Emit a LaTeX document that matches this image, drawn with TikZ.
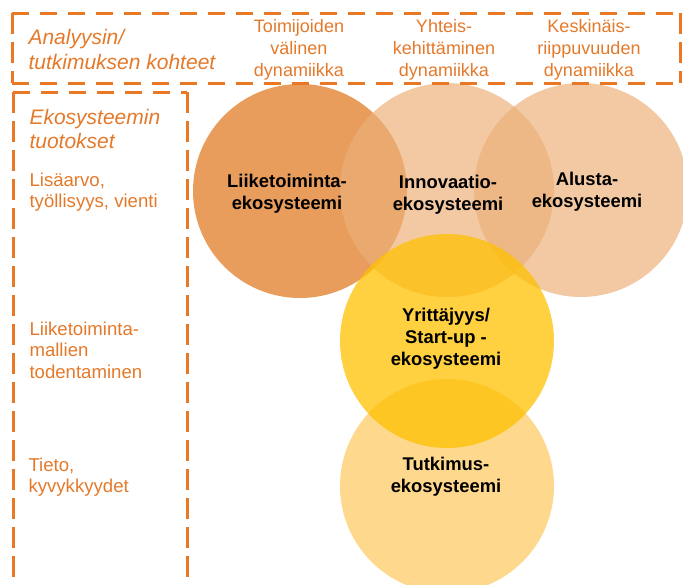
\documentclass[tikz,border=0pt]{standalone}
\usepackage{fontspec}
\setmainfont{Liberation Sans}
\begin{document}
\definecolor{lineorange}{RGB}{232,120,35}
\definecolor{textorange}{RGB}{228,121,42}
\definecolor{bizfill}{RGB}{232,157,92}
\definecolor{peach}{RGB}{236,176,120}
\definecolor{gold}{RGB}{255,192,0}
\definecolor{paleyellow}{RGB}{254,216,140}
\tikzset{
  frameh/.style={draw=lineorange, line width=3pt, dash pattern=on 17pt off 11pt},
  framev/.style={draw=lineorange, line width=3pt, dash pattern=on 21pt off 8pt},
  eco/.style={circle, minimum size=214pt, inner sep=0pt, draw=none},
  head/.style={text=textorange, align=center, font=\fontsize{18pt}{22pt}\selectfont},
  side/.style={text=textorange, align=left, anchor=west, font=\fontsize{18.6pt}{21.5pt}\selectfont},
  sideit/.style={side, font=\fontsize{21pt}{24.5pt}\selectfont\itshape},
  ecolabel/.style={align=center, font=\fontsize{18.4pt}{22pt}\selectfont\bfseries}
}
\begin{tikzpicture}[x=1pt, y=-1pt]
\useasboundingbox (0,0) rectangle (683,584);
\clip (0,0) rectangle (683,584);

% circles, back to front
\node[eco, fill=paleyellow] (tutk) at (447,486) {};
\node[eco, fill=bizfill] (liike) at (300,191) {};
\node[eco, fill=peach, fill opacity=0.68] (innov) at (447,190) {};
\node[eco, fill=peach, fill opacity=0.68] (alusta) at (581,190) {};
\node[eco, fill=gold, fill opacity=0.75] (yritt) at (447,341) {};

% circle labels
\node[ecolabel] (liikeT) at (287,194) {Liiketoiminta-\\ekosysteemi};
\node[ecolabel] (innovT) at (448,195) {Innovaatio-\\ekosysteemi};
\node[ecolabel] (alustaT) at (587,192) {Alusta-\\ekosysteemi};
\node[ecolabel] (yrittT) at (446,339) {Yrittäjyys/\\Start-up -\\ekosysteemi};
\node[ecolabel] (tutkT) at (446,477) {Tutkimus-\\ekosysteemi};

% dashed frames
\draw[frameh] (12,13) -- (680,13);
\draw[frameh] (12,83) -- (680,83);
\draw[framev] (12,13) -- (12,83);
\draw[framev] (680,13) -- (680,83);
\draw[frameh] (13,92) -- (187,92);
\draw[framev] (13,92) -- (13,600);
\draw[framev] (187,92) -- (187,600);

% header row
\node[sideit] (analyysi) at (25,49.5) {Analyysin/\\tutkimuksen kohteet};
\node[head] (toim) at (299,50) {Toimijoiden\\välinen\\dynamiikka};
\node[head] (yhteis) at (444,50) {Yhteis-\\kehittäminen\\dynamiikka};
\node[head] (keski) at (589,50) {Keskinäis-\\riippuvuuden\\dynamiikka};

% outputs column
\node[sideit] (tuotos) at (26,129) {Ekosysteemin\\tuotokset};
\node[side] (lisa) at (26,192) {Lisäarvo,\\työllisyys, vienti};
\node[side] (malli) at (26,350) {Liiketoiminta-\\mallien\\todentaminen};
\node[side] (tieto) at (25,477) {Tieto,\\kyvykkyydet};
\end{tikzpicture}
\end{document}
